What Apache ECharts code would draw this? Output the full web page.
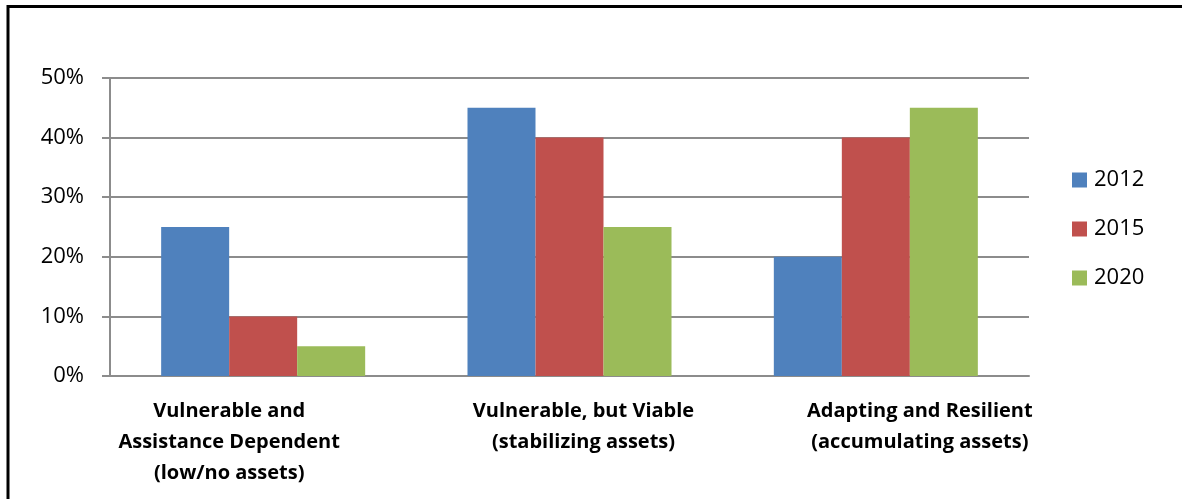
<!DOCTYPE html>
<html>
<head>
<meta charset="utf-8">
<script src="https://cdn.jsdelivr.net/npm/echarts@6/dist/echarts.min.js"></script>
<style>
  html, body { margin: 0; padding: 0; background: #fff; }
  #main { width: 1182px; height: 499px; }
</style>
</head>
<body>
<div id="main"></div>
<script>
// categories and values
const categories = [
  'Vulnerable and\nAssistance Dependent\n(low/no assets)',
  'Vulnerable, but Viable\n(stabilizing assets)',
  'Adapting and Resilient\n(accumulating assets)'
];
const seriesNames = ['2012', '2015', '2020'];
const values2012 = [0.25, 0.45, 0.20];
const values2015 = [0.10, 0.40, 0.40];
const values2020 = [0.05, 0.25, 0.45];
const colors = ['#4F81BD', '#C0504D', '#9BBB59'];

// the wrapped labels in the original sit a bit off-centre
const labelPad = [[0, 68, 0, 0], [0, 0, 0, 28], [0, 0, 0, 88]];

const chart = echarts.init(document.getElementById('main'));

const seriesData = [values2012, values2015, values2020];

const option = {
  animation: false,
  backgroundColor: '#fff',
  graphic: [{
    type: 'rect',
    shape: { x: 8, y: 6.5, width: 1300, height: 700 },
    style: { fill: 'none', stroke: '#000', lineWidth: 3 },
    silent: true
  }],
  grid: { left: 110, right: 153, top: 78, bottom: 123 },
  legend: {
    orient: 'vertical',
    left: 1067,
    top: 164,
    itemWidth: 15,
    itemHeight: 15,
    itemGap: 27,
    icon: 'rect',
    textStyle: { fontFamily: 'Open Sans', fontSize: 22, color: '#000', lineHeight: 22, padding: [0, 0, 0, 2] },
    data: seriesNames
  },
  xAxis: {
    type: 'category',
    data: categories.map((c, i) => ({
      value: c,
      textStyle: { padding: labelPad[i] }
    })),
    axisLine: { lineStyle: { color: '#8c8c8c', width: 2 } },
    axisTick: { show: false },
    axisLabel: {
      interval: 0,
      margin: 20,
      fontFamily: 'Open Sans',
      fontWeight: 'bold',
      fontSize: 20,
      lineHeight: 31,
      color: '#000'
    }
  },
  yAxis: {
    type: 'value',
    min: 0,
    max: 0.5,
    interval: 0.1,
    axisLine: { show: true, lineStyle: { color: '#8c8c8c', width: 2 } },
    axisTick: { show: true, length: 8, lineStyle: { color: '#8c8c8c', width: 2 } },
    splitLine: { lineStyle: { color: '#8c8c8c', width: 2 } },
    axisLabel: {
      margin: 26,
      fontFamily: 'Open Sans',
      fontSize: 22,
      color: '#000',
      formatter: v => Math.round(v * 100) + '%'
    }
  },
  series: seriesNames.map((name, i) => ({
    name: name,
    type: 'bar',
    data: seriesData[i],
    barGap: 0,
    barCategoryGap: '33.4%',
    itemStyle: { color: colors[i] }
  }))
};

chart.setOption(option);
</script>
</body>
</html>
